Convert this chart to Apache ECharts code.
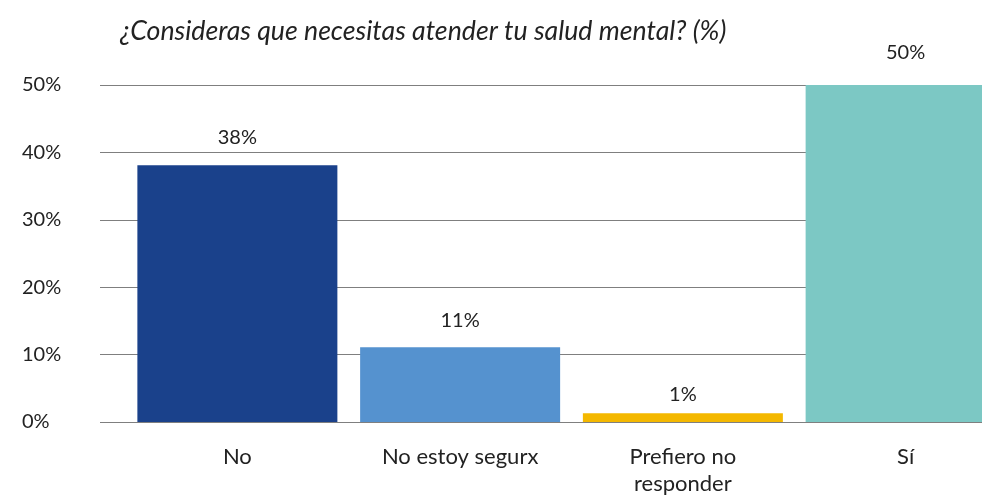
<!DOCTYPE html>
<html style="height: 100%">
<head>
    <meta charset="utf-8">
    <script src="https://cdn.jsdelivr.net/npm/echarts@6/dist/echarts.min.js"></script>
</head>
<body style="height: 100%; margin: 0; background: #fff">
    <div id="container" style="width: 982px; height: 495px"></div>
    <script type="text/javascript">
        // datos
        var categorias = ['No', 'No estoy segurx', 'Prefiero no\nresponder', 'Sí'];
        var valores = [38.1, 11.1, 1.3, 50];
        var colores = ['#1a418b', '#5592cf', '#f4b800', '#7cc8c4'];
        var ticksY = [0, 10, 20, 30, 40, 50];

        var fuente = 'Lato';
        var myChart = echarts.init(document.getElementById('container'));

        // separación de cada etiqueta sobre su barra (como en el original)
        var distEtiqueta = [18, 17, 9, 22];

        var option = {
            backgroundColor: '#fff',
            title: {
                text: '¿Consideras que necesitas atender tu salud mental? (%)',
                left: 115,
                top: 13,
                textStyle: {
                    fontFamily: fuente,
                    fontStyle: 'italic',
                    fontWeight: 'normal',
                    fontSize: 26.7,
                    color: '#222'
                }
            },
            grid: [
                { left: 100, right: 0, top: 85, bottom: 73, outerBoundsMode: 'none' },
                { left: 126, width: 891, top: 85, bottom: 73, outerBoundsMode: 'none' }
            ],
            xAxis: [
                { type: 'category', gridIndex: 0, data: [''], show: false },
                {
                    type: 'category',
                    gridIndex: 1,
                    data: categorias,
                    axisLine: { show: false },
                    axisTick: { show: false },
                    axisLabel: {
                        margin: 21,
                        fontFamily: fuente,
                        fontSize: 22,
                        lineHeight: 27,
                        color: '#222',
                        interval: 0
                    }
                }
            ],
            yAxis: [
                {
                    type: 'value',
                    gridIndex: 0,
                    min: ticksY[0],
                    max: ticksY[ticksY.length - 1],
                    interval: 10,
                    axisLine: { show: false },
                    axisTick: { show: false },
                    splitLine: { lineStyle: { color: '#7f7f7f', width: 1 } },
                    axisLabel: {
                        formatter: '{value}%',
                        align: 'left',
                        margin: 78,
                        fontFamily: fuente,
                        fontSize: 20,
                        color: '#222'
                    }
                },
                {
                    type: 'value',
                    gridIndex: 1,
                    min: ticksY[0],
                    max: ticksY[ticksY.length - 1],
                    interval: 10,
                    show: false
                }
            ],
            series: [{
                type: 'bar',
                xAxisIndex: 1,
                yAxisIndex: 1,
                barWidth: 200,
                data: valores.map(function (v, i) {
                    return {
                        value: v,
                        itemStyle: { color: colores[i] },
                        label: { distance: distEtiqueta[i] }
                    };
                }),
                label: {
                    show: true,
                    position: 'top',
                    formatter: function (p) { return Math.round(p.value) + '%'; },
                    fontFamily: fuente,
                    fontSize: 20,
                    color: '#222'
                }
            }]
        };
        myChart.setOption(option);
    </script>
</body>
</html>
